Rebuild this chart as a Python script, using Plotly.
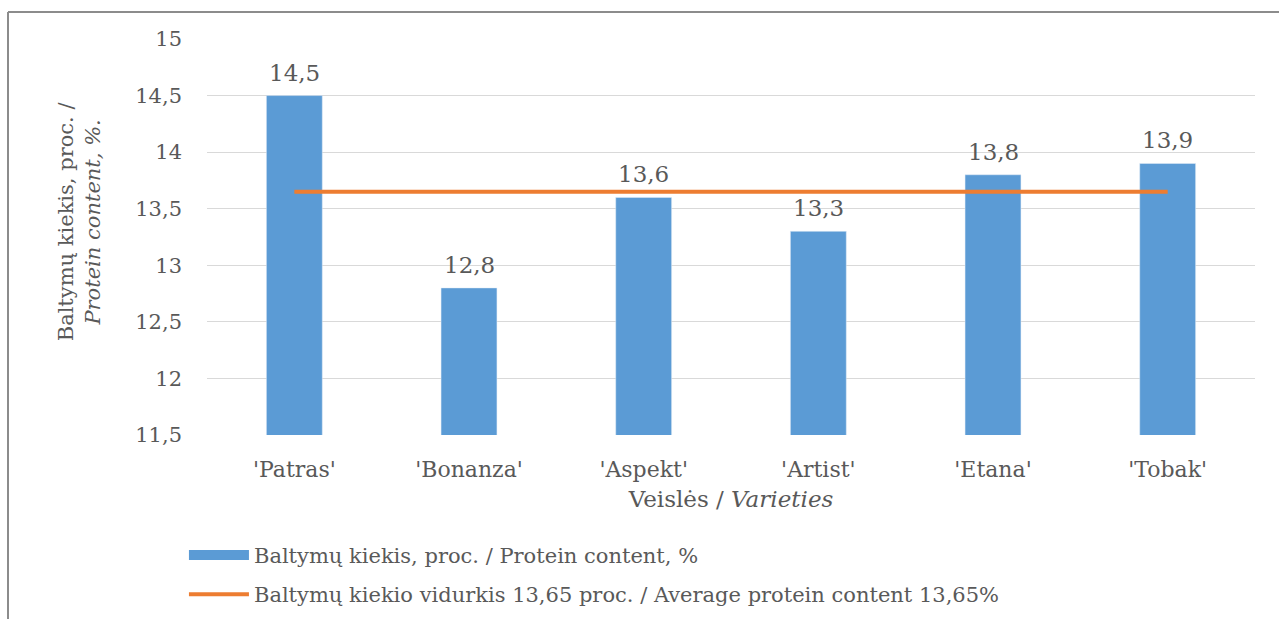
import plotly.graph_objects as go

# Protein content by variety
varieties = ["'Patras'", "'Bonanza'", "'Aspekt'", "'Artist'", "'Etana'", "'Tobak'"]
protein = [14.5, 12.8, 13.6, 13.3, 13.8, 13.9]
average_protein = 13.65

y_ticks = [11.5, 12, 12.5, 13, 13.5, 14, 14.5, 15]
y_tick_text = ["11,5", "12", "12,5", "13", "13,5", "14", "14,5", "15"]

bar_name = "Baltymų kiekis, proc. / Protein content, %"
line_name = "Baltymų kiekio vidurkis 13,65 proc. / Average protein content 13,65%"

FONT = "DejaVu Serif"
TEXT = "#595959"
BLUE = "#5b9bd5"
ORANGE = "#ed7d31"


def fmt(v):
    return f"{v:.1f}".replace(".", ",")


fig = go.Figure()

fig.add_trace(go.Bar(
    x=varieties,
    y=protein,
    name=bar_name,
    marker=dict(color=BLUE),
    width=0.32,
    showlegend=False,
))

fig.add_trace(go.Scatter(
    x=[varieties[0], varieties[-1]],
    y=[average_protein, average_protein],
    name=line_name,
    mode="lines",
    line=dict(color=ORANGE, width=4),
    showlegend=False,
))

# legend entries: wide blue key for the bars, orange key for the average line
fig.add_trace(go.Scatter(
    x=[None], y=[None], mode="lines", name=bar_name,
    legendgroup="bars",
    line=dict(color=BLUE, width=10),
))
fig.add_trace(go.Scatter(
    x=[None], y=[None], mode="lines", name=line_name,
    legendgroup="average",
    line=dict(color=ORANGE, width=4),
))

# value labels above the bars
label_annotations = [
    dict(
        x=cat, y=val, xref="x", yref="y",
        text=fmt(val), showarrow=False,
        yanchor="bottom", yshift=8,
        font=dict(family=FONT, size=23, color=TEXT),
    )
    for cat, val in zip(varieties, protein)
]

fig.update_layout(
    width=1279,
    height=619,
    margin=dict(l=207, r=24, t=39, b=184, autoexpand=False),
    paper_bgcolor="white",
    plot_bgcolor="white",
    font=dict(family=FONT, size=21, color=TEXT),
    showlegend=True,
    legend=dict(
        orientation="v",
        x=-0.022,
        xanchor="left",
        y=-0.252,
        yanchor="top",
        font=dict(family=FONT, size=21, color=TEXT),
        itemwidth=60,
        tracegroupgap=9,
        bgcolor="rgba(0,0,0,0)",
    ),
    xaxis=dict(
        automargin=False,
        showgrid=False,
        showline=False,
        ticks="",
        ticklabelstandoff=19,
        tickfont=dict(family=FONT, size=22, color=TEXT),
        title=dict(
            text="Veislės / <i>Varieties</i>",
            font=dict(family=FONT, size=23, color=TEXT),
            standoff=9,
        ),
    ),
    yaxis=dict(
        automargin=False,
        range=[11.5, 15],
        tickvals=y_ticks,
        ticktext=y_tick_text,
        showgrid=True,
        gridcolor="#d9d9d9",
        gridwidth=1,
        zeroline=False,
        showline=False,
        ticks="",
        ticklabelstandoff=24,
        tickfont=dict(family=FONT, size=21, color=TEXT),
    ),
    annotations=label_annotations + [
        dict(
            text="Baltymų kiekis, proc. /<br><i>Protein content, %.</i>",
            xref="paper", yref="paper",
            x=-0.122, y=0.54,
            xanchor="center", yanchor="middle",
            textangle=-90,
            showarrow=False,
            font=dict(family=FONT, size=21, color=TEXT),
        ),
    ],
    shapes=[
        # chart frame (top and left edges)
        dict(type="line", xref="paper", yref="paper",
             x0=(8 - 207) / 1048, x1=(1279 - 207) / 1048,
             y0=(435 - 12) / 396, y1=(435 - 12) / 396,
             line=dict(color="#8c8c8c", width=2)),
        dict(type="line", xref="paper", yref="paper",
             x0=(8 - 207) / 1048, x1=(8 - 207) / 1048,
             y0=(435 - 12) / 396, y1=(435 - 625) / 396,
             line=dict(color="#8c8c8c", width=2)),
    ],
)

fig.write_html("out.html")
